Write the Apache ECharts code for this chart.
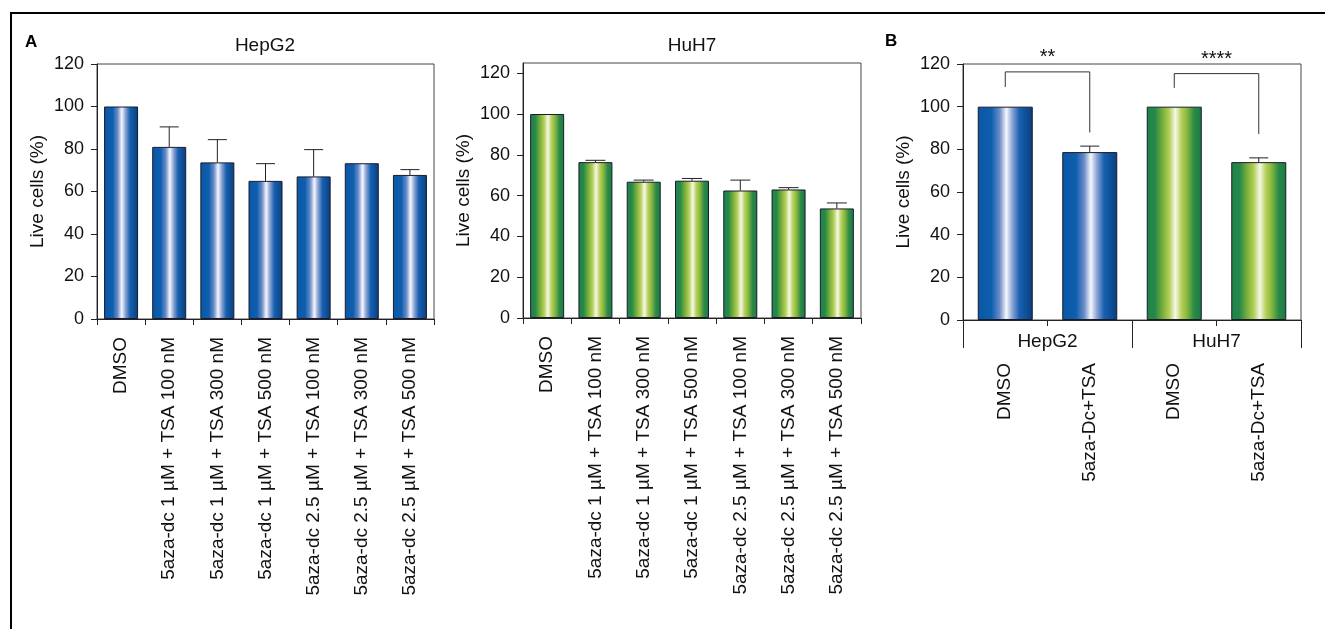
<!DOCTYPE html>
<html>
<head>
<meta charset="utf-8">
<script src="https://cdn.jsdelivr.net/npm/echarts@6/dist/echarts.min.js"></script>
<style>html,body{margin:0;padding:0;background:#fff;}#c{width:1325px;height:629px;}</style>
</head>
<body>
<div id="c"></div>
<script>
// ---------- data ----------
var treatmentsA = ['DMSO',
  '5aza-dc 1 \u00b5M + TSA 100 nM', '5aza-dc 1 \u00b5M + TSA 300 nM', '5aza-dc 1 \u00b5M + TSA 500 nM',
  '5aza-dc 2.5 \u00b5M + TSA 100 nM', '5aza-dc 2.5 \u00b5M + TSA 300 nM', '5aza-dc 2.5 \u00b5M + TSA 500 nM'];
var hepg2Values = [100, 81, 73.7, 65, 67.1, 73.3, 67.8];
var hepg2Errors = [0, 9.4, 10.7, 8.1, 12.6, 0, 2.5];
var huh7Values = [100, 76.4, 66.8, 67.3, 62.5, 63.0, 53.7];
var huh7Errors = [0, 0.9, 0.8, 1.1, 5.1, 0.9, 2.7];
var treatmentsB = ['DMSO', '5aza-Dc+TSA', 'DMSO', '5aza-Dc+TSA'];
var cellLinesB = ['HepG2', 'HuH7'];
var bValues = [100, 78.7, 100, 74.0];
var bErrors = [0, 2.8, 0, 2.0];
var bCellLineOfBar = [0, 0, 1, 1];
var sigPairs = [[0, 1], [2, 3]];
var sigLabels = ['**', '****'];
var sigBracketTop = [116.3, 115.5];
var sigBracketLeftEnd = [109.2, 108.8];
var sigBracketRightEnd = [87.9, 87.2];
var yTicks = [0, 20, 40, 60, 80, 100, 120];
var titlesA = ['HepG2', 'HuH7'];
var yName = 'Live cells (%)';

// ---------- styles ----------
var FONT = "'Liberation Sans', Arial, Helvetica, sans-serif";
var blueGrad = {type: 'linear', x: 0, y: 0, x2: 1, y2: 0, colorStops: [
  {offset: 0, color: '#0a57a6'}, {offset: 0.25, color: '#0d5fae'}, {offset: 0.4, color: '#6c8cc8'},
  {offset: 0.52, color: '#f5f7fc'}, {offset: 0.63, color: '#8aa3d4'}, {offset: 0.76, color: '#1760b0'},
  {offset: 1, color: '#073f80'}]};
var greenGrad = {type: 'linear', x: 0, y: 0, x2: 1, y2: 0, colorStops: [
  {offset: 0, color: '#1e8449'}, {offset: 0.15, color: '#26884a'}, {offset: 0.3, color: '#7fb23a'},
  {offset: 0.41, color: '#b3cf58'}, {offset: 0.52, color: '#f5f8e8'}, {offset: 0.63, color: '#b6d05a'},
  {offset: 0.73, color: '#8ab83e'}, {offset: 0.86, color: '#2a8a48'}, {offset: 1, color: '#1b7a42'}]};
var grads = [blueGrad, greenGrad];

function yAxisCfg(gi, max) {
  return {
    type: 'value', gridIndex: gi, min: 0, max: max, interval: 20,
    name: yName, nameLocation: 'middle', nameRotate: 90, nameGap: 50,
    nameTextStyle: {fontFamily: FONT, fontSize: 19, color: '#111'},
    axisLine: {show: true, lineStyle: {color: '#222', width: 1}},
    axisTick: {show: true, inside: false, length: 6, lineStyle: {color: '#222'}, customValues: yTicks},
    axisLabel: {show: true, margin: 13, fontFamily: FONT, fontSize: 18, color: '#111', customValues: yTicks},
    splitLine: {show: false}
  };
}
function xAxisCfg(gi, data, margin) {
  return {
    type: 'category', gridIndex: gi, data: data, position: 'bottom',
    axisLine: {show: true, lineStyle: {color: '#222', width: 1}},
    axisTick: {show: true, alignWithLabel: false, length: 6, lineStyle: {color: '#222'}},
    axisLabel: {interval: 0, rotate: 90, margin: margin, fontFamily: FONT, fontSize: 19, color: '#111'},
    splitLine: {show: false}
  };
}
function errorSeries(xi, yi, values, errors, capW) {
  return {
    type: 'custom', xAxisIndex: xi, yAxisIndex: yi, z: 1, silent: true,
    data: values.map(function (v, i) { return [i, v, errors[i]]; }),
    renderItem: function (params, api) {
      var e = api.value(2);
      if (!e) return null;
      var p0 = api.coord([api.value(0), api.value(1)]);
      var p1 = api.coord([api.value(0), api.value(1) + e]);
      var st = {stroke: '#222', lineWidth: 1, fill: null};
      return {type: 'group', children: [
        {type: 'line', shape: {x1: p0[0], y1: p0[1], x2: p1[0], y2: p1[1]}, style: st},
        {type: 'line', shape: {x1: p1[0] - capW / 2, y1: p1[1], x2: p1[0] + capW / 2, y2: p1[1]}, style: st}
      ]};
    }
  };
}
var gridBase = {show: true, borderColor: '#444', borderWidth: 1, backgroundColor: 'transparent', containLabel: false, outerBoundsMode: 'none'};

var option = {
  animation: false,
  backgroundColor: '#fff',
  title: [
    {text: titlesA[0], left: 265, top: 36, textAlign: 'center', padding: 0,
     textStyle: {fontFamily: FONT, fontSize: 19, fontWeight: 'normal', color: '#111'}},
    {text: titlesA[1], left: 692, top: 36, textAlign: 'center', padding: 0,
     textStyle: {fontFamily: FONT, fontSize: 19, fontWeight: 'normal', color: '#111'}}
  ],
  graphic: [
    {type: 'rect', shape: {x: 11, y: 13, width: 1400, height: 700}, style: {fill: null, stroke: '#000', lineWidth: 2}},
    {type: 'text', left: 25, top: 34, style: {text: 'A', font: 'bold 17px ' + FONT, fill: '#000'}},
    {type: 'text', left: 885, top: 33, style: {text: 'B', font: 'bold 17px ' + FONT, fill: '#000'}}
  ],
  grid: [
    Object.assign({left: 97, top: 64, width: 337, height: 255}, gridBase),
    Object.assign({left: 523, top: 63, width: 338, height: 255}, gridBase),
    Object.assign({left: 963, top: 64, width: 338, height: 256}, gridBase)
  ],
  xAxis: [
    xAxisCfg(0, treatmentsA, 18),
    xAxisCfg(1, treatmentsA, 18),
    xAxisCfg(2, treatmentsB, 43),
    {
      type: 'category', gridIndex: 2, data: cellLinesB, position: 'bottom',
      axisLine: {show: false},
      axisTick: {show: true, alignWithLabel: false, length: 28, lineStyle: {color: '#222'}},
      axisLabel: {interval: 0, margin: 12, fontFamily: FONT, fontSize: 19, color: '#111'},
      splitLine: {show: false}
    }
  ],
  yAxis: [yAxisCfg(0, 120), yAxisCfg(1, 125), yAxisCfg(2, 120)],
  series: [
    {type: 'bar', xAxisIndex: 0, yAxisIndex: 0, barWidth: 34, z: 2, data: hepg2Values,
     itemStyle: {color: blueGrad, borderColor: '#1a1a2a', borderWidth: 1}},
    errorSeries(0, 0, hepg2Values, hepg2Errors, 19),
    {type: 'bar', xAxisIndex: 1, yAxisIndex: 1, barWidth: 34, z: 2, data: huh7Values,
     itemStyle: {color: greenGrad, borderColor: '#1a1a2a', borderWidth: 1}},
    errorSeries(1, 1, huh7Values, huh7Errors, 20),
    {type: 'bar', xAxisIndex: 2, yAxisIndex: 2, barWidth: 55, z: 2,
     data: bValues.map(function (v, i) { return {value: v, itemStyle: {color: grads[bCellLineOfBar[i]]}}; }),
     itemStyle: {borderColor: '#1a1a2a', borderWidth: 1}},
    errorSeries(2, 2, bValues, bErrors, 19),
    {
      type: 'custom', xAxisIndex: 2, yAxisIndex: 2, z: 3, silent: true, clip: false,
      data: sigPairs.map(function (p, i) { return [p[0], p[1], sigBracketLeftEnd[i], sigBracketTop[i], sigBracketRightEnd[i]]; }),
      renderItem: function (params, api) {
        var a = api.value(0), b = api.value(1);
        var pl = api.coord([a, api.value(2)]);
        var tl = api.coord([a, api.value(3)]);
        var tr = api.coord([b, api.value(3)]);
        var pr = api.coord([b, api.value(4)]);
        return {type: 'group', children: [
          {type: 'polyline', shape: {points: [pl, tl, tr, pr]}, style: {stroke: '#333', lineWidth: 1, fill: null}},
          {type: 'text', x: (tl[0] + tr[0]) / 2, y: tl[1] - 14,
           style: {text: sigLabels[params.dataIndex], font: '20px ' + FONT, fill: '#111', align: 'center', verticalAlign: 'middle'}}
        ]};
      }
    }
  ]
};
var chart = echarts.init(document.getElementById('c'), null, {renderer: 'canvas'});
chart.setOption(option);
</script>
</body>
</html>
